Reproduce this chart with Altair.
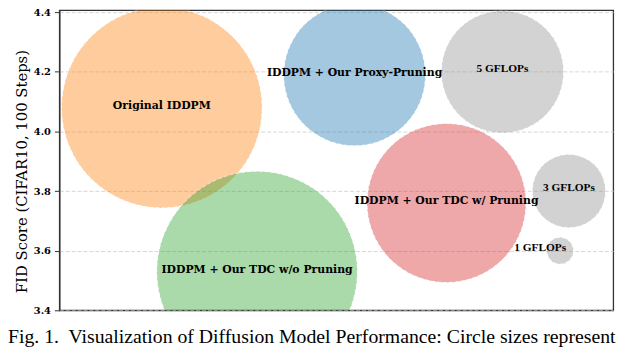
import altair as alt
import pandas as pd

# ---- data ----
labels = ["Original IDDPM", "IDDPM + Our Proxy-Pruning", "IDDPM + Our TDC w/ Pruning",
          "IDDPM + Our TDC w/o Pruning", "5 GFLOPs", "3 GFLOPs", "1 GFLOPs"]
kind = ["model", "model", "model", "model", "ref", "ref", "ref"]
x_pos = [1.85, 5.33, 6.99, 3.57, 8.0, 9.2, 9.04]
fid = [4.08, 4.19, 3.76, 3.53, 4.2, 3.8, 3.6]
gflops = [8.2, 5.8, 6.5, 8.2, 5.0, 3.0, 1.1]
label_x = [1.85, 5.33, 6.99, 3.57, 8.0, 9.2, 8.68]
y_ticks = [3.4, 3.6, 3.8, 4.0, 4.2, 4.4]
caption = "Fig. 1.\u00a0 Visualization of Diffusion Model Performance: Circle sizes represent"

colors = ["#ff7f0e", "#1f77b4", "#d62728", "#2ca02c", "#919191", "#919191", "#919191"]

df = pd.DataFrame({"label": labels, "kind": kind, "x": x_pos, "fid": fid,
                   "gflops": gflops, "lx": label_x})

xs = alt.Scale(domain=[0, 10], nice=False, zero=False)
ys = alt.Scale(domain=[3.4, 4.407], nice=False, zero=False)

circles = alt.Chart(df).mark_circle(
    clip=True, opacity=0.4, stroke="white", strokeWidth=1, strokeDash=[4, 2]
).encode(
    x=alt.X("x:Q", scale=xs, axis=None),
    y=alt.Y("fid:Q", scale=ys, title="FID Score (CIFAR10, 100 Steps)",
            axis=alt.Axis(values=y_ticks, format=".1f", titleY=163)),
    size=alt.Size("gflops:Q", scale=alt.Scale(type="pow", exponent=2, domain=[0, 10],
                                              range=[0, 61504]), legend=None),
    color=alt.Color("label:N", scale=alt.Scale(domain=labels, range=colors), legend=None),
)

model_text = alt.Chart(df).transform_filter(alt.datum.kind == "model").mark_text(
    font="DejaVu Serif", fontWeight="bold", fontSize=11, color="black", dy=-2
).encode(
    x=alt.X("lx:Q", scale=xs, axis=None),
    y=alt.Y("fid:Q", scale=ys),
    text="label:N",
)

ref_text = alt.Chart(df).transform_filter(alt.datum.kind == "ref").mark_text(
    font="Liberation Serif", fontWeight="bold", fontSize=11.5, color="black", dy=-3
).encode(
    x=alt.X("lx:Q", scale=xs, axis=None),
    y=alt.Y("fid:Q", scale=ys),
    text="label:N",
)

chart = alt.layer(circles, model_text, ref_text).properties(
    width=561, height=304,
    autosize=alt.AutoSizeParams(type="none"),
    padding={"left": 52, "top": 0, "right": 19, "bottom": 36},
    title=alt.TitleParams(caption, orient="bottom", anchor="start", frame="group",
                          font="Liberation Serif", fontSize=20, fontWeight="normal",
                          color="black", offset=12, dx=-52),
).configure_view(
    stroke="#333333", strokeWidth=1.3
).configure_axis(
    domainColor="#333333", domainWidth=1.3, tickColor="#333333", tickSize=5,
    labelFont="DejaVu Serif", labelFontWeight="bold", labelFontSize=10,
    labelColor="black", labelPadding=4,
    titleFont="DejaVu Serif", titleFontWeight="normal", titleFontSize=15,
    titleColor="black", titlePadding=4,
    grid=True, gridColor="#cccccc", gridDash=[4, 2], gridWidth=0.8,
)

chart.save("out.html", embed_options={"renderer": "svg", "actions": False})
